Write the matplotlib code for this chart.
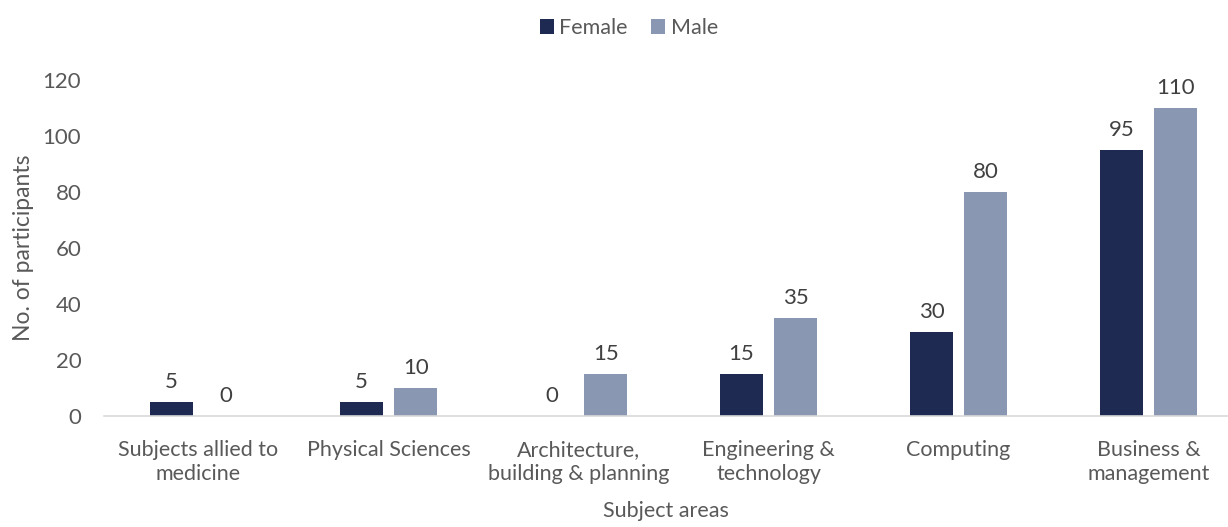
import numpy as np
import matplotlib
matplotlib.use('Agg')
from matplotlib import pyplot as plt

plt.rcParams['font.family'] = ['Lato', 'DejaVu Sans']

categories = ['Subjects allied to\nmedicine', 'Physical Sciences',
              'Architecture,\nbuilding & planning', 'Engineering &\ntechnology',
              'Computing', 'Business &\nmanagement']
female = [5, 5, 0, 15, 30, 95]
male = [0, 10, 15, 35, 80, 110]
yticks = [0, 20, 40, 60, 80, 100, 120]

text_col = '#595959'
female_col = '#1f2a52'
male_col = '#8a97b3'

fig = plt.figure(figsize=(12.28, 5.27), dpi=100)
ax = fig.add_axes([0.0843, 0.2106, 0.9157, 0.6374])

x = np.arange(len(categories))
w = 0.226
b1 = ax.bar(x - 0.143, female, w, color=female_col, label='Female')
b2 = ax.bar(x + 0.143, male, w, color=male_col, label='Male')

ax.bar_label(b1, padding=7, fontsize=16, color='#404040')
ax.bar_label(b2, padding=7, fontsize=16, color='#404040')

ax.set_xlim(-0.5, 5.418)
ax.set_ylim(0, 120)
ax.set_yticks(yticks)
ax.set_xticks(x)
ax.set_xticklabels(categories, fontsize=15.5, color=text_col, linespacing=1.3)
ax.tick_params(axis='y', labelsize=16, labelcolor=text_col, length=0, pad=16)
ax.tick_params(axis='x', length=0, pad=17)

for s in ['top', 'right', 'left']:
    ax.spines[s].set_visible(False)
ax.spines['bottom'].set_color('#d9d9d9')
ax.spines['bottom'].set_linewidth(1.2)

ax.set_xlabel('Subject areas', fontsize=15.5, color=text_col, labelpad=12)
ax.set_ylabel('No. of participants', fontsize=16.5, color=text_col, labelpad=6)

leg = fig.legend(loc='center', bbox_to_anchor=(0.512, 0.947), ncol=2, frameon=False,
                 fontsize=15.5, handlelength=0.65, handleheight=0.65, handletextpad=0.25,
                 columnspacing=1.1)
for t in leg.get_texts():
    t.set_color(text_col)

fig.savefig('out.png', dpi=100)
